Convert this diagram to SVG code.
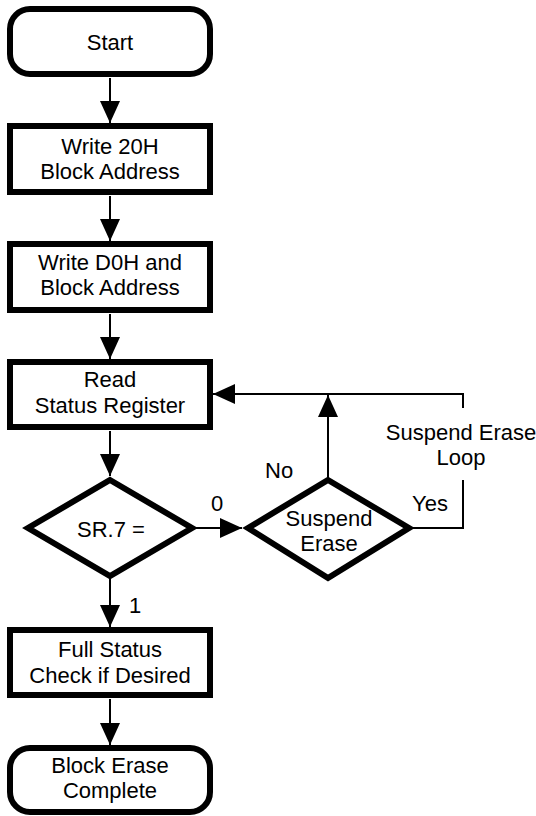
<svg xmlns="http://www.w3.org/2000/svg" width="536" height="816" viewBox="0 0 536 816">
  <style>
    .box { fill: #ffffff; stroke: #000000; stroke-width: 6; }
    .dia { fill: #ffffff; stroke: #000000; stroke-width: 6; stroke-linejoin: miter; }
    .lbl { font-family: "Liberation Sans", Arial, Helvetica, sans-serif; font-size: 22px; fill: #000000; text-anchor: middle; }
    .side { font-family: "Liberation Sans", Arial, Helvetica, sans-serif; font-size: 22px; fill: #000000; }
    .con { fill: none; stroke: #000000; stroke-width: 2; }
  </style>
  <defs>
    <marker id="ah" viewBox="0 0 22 20" refX="22" refY="10" markerWidth="22" markerHeight="20" markerUnits="userSpaceOnUse" orient="auto">
      <path d="M0,0 L22,10 L0,20 Z" fill="#000000"/>
    </marker>
  </defs>
  <rect width="536" height="816" fill="#ffffff"/>

  <g id="connectors">
    <path class="con" d="M110,78 L110,123" marker-end="url(#ah)"/>
    <path class="con" d="M110,196 L110,241" marker-end="url(#ah)"/>
    <path class="con" d="M110,314 L110,359" marker-end="url(#ah)"/>
    <path class="con" d="M110,431 L110,476" marker-end="url(#ah)"/>
    <path class="con" d="M110,578 L110,627" marker-end="url(#ah)"/>
    <path class="con" d="M110,699 L110,745" marker-end="url(#ah)"/>
    <path class="con" d="M194,528 L242,528" marker-end="url(#ah)"/>
    <path class="con" d="M328,479 L328,395" marker-end="url(#ah)"/>
    <path class="con" d="M410,528 L463,528 L463,480"/>
    <path class="con" d="M463,408 L463,394 L213,394" marker-end="url(#ah)"/>
    <text class="side" x="211" y="511">0</text>
    <text class="side" x="129" y="613">1</text>
    <text class="side" x="265" y="478">No</text>
    <text class="side" x="412" y="511">Yes</text>
    <text class="lbl" x="461" y="440">Suspend Erase</text>
    <text class="lbl" x="461" y="465">Loop</text>
  </g>

  <g id="start">
    <rect class="box" x="10" y="9" width="200" height="65" rx="20" ry="20"/>
    <text class="lbl" x="110" y="50">Start</text>
  </g>
  <g id="write20h">
    <rect class="box" x="10" y="126" width="200" height="66"/>
    <text class="lbl" x="110" y="154">Write 20H</text>
    <text class="lbl" x="110" y="179">Block Address</text>
  </g>
  <g id="writed0h">
    <rect class="box" x="10" y="244" width="200" height="66"/>
    <text class="lbl" x="110" y="270">Write D0H and</text>
    <text class="lbl" x="110" y="295">Block Address</text>
  </g>
  <g id="readsr">
    <rect class="box" x="10" y="362" width="200" height="65"/>
    <text class="lbl" x="110" y="387">Read</text>
    <text class="lbl" x="110" y="413">Status Register</text>
  </g>
  <g id="sr7">
    <polygon class="dia" points="110,480 192,528 110,576 28,528"/>
    <text class="lbl" x="111" y="537">SR.7 =</text>
  </g>
  <g id="suspend">
    <polygon class="dia" points="328,480 409,528 328,578 248,528"/>
    <text class="lbl" x="329" y="526">Suspend</text>
    <text class="lbl" x="329" y="551">Erase</text>
  </g>
  <g id="fullstatus">
    <rect class="box" x="10" y="630" width="200" height="65"/>
    <text class="lbl" x="110" y="657">Full Status</text>
    <text class="lbl" x="110" y="683">Check if Desired</text>
  </g>
  <g id="end">
    <rect class="box" x="10" y="748" width="200" height="64" rx="20" ry="20"/>
    <text class="lbl" x="110" y="773">Block Erase</text>
    <text class="lbl" x="110" y="798">Complete</text>
  </g>
</svg>
